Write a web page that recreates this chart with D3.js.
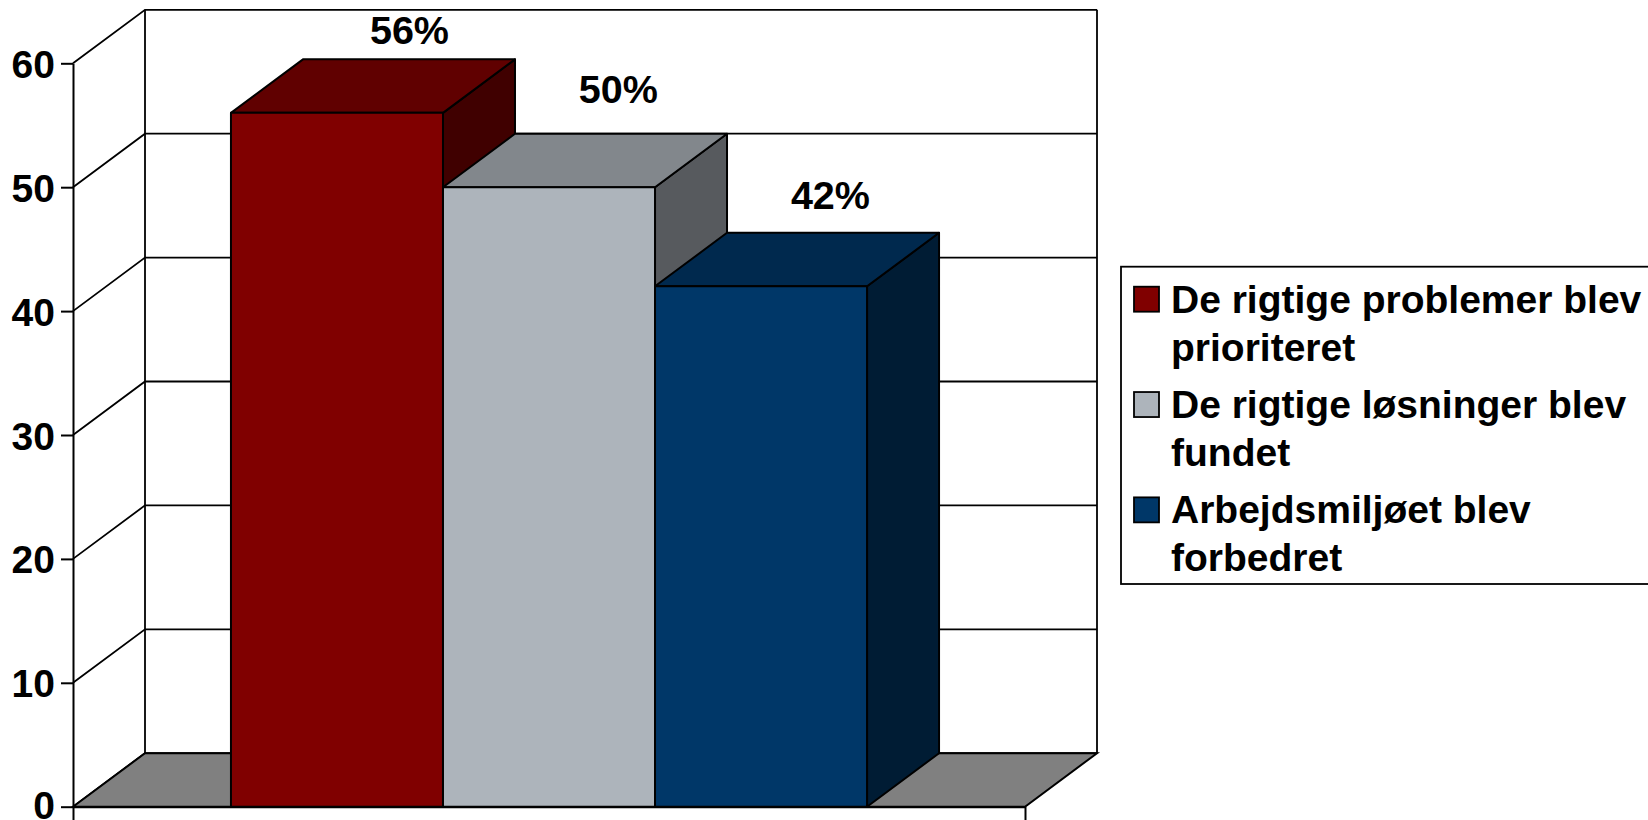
<!DOCTYPE html>
<html>
<head>
<meta charset="utf-8">
<script src="https://cdn.jsdelivr.net/npm/d3@7"></script>
<style>
  body { margin: 0; background: white; }
  svg { display: block; }
  text { font-family: "Liberation Sans", Arial, sans-serif; font-weight: bold; fill: black; }
</style>
</head>
<body>
<svg id="chart" width="1648" height="820"></svg>
<script>
var series = ["De rigtige problemer blev prioriteret", "De rigtige løsninger blev fundet", "Arbejdsmiljøet blev forbedret"];
var values = [56, 50, 42];
var valueLabels = ["56%", "50%", "42%"];
var yTicks = [0, 10, 20, 30, 40, 50, 60];
var legendLines = [["De rigtige problemer blev", "prioriteret"], ["De rigtige løsninger blev", "fundet"], ["Arbejdsmiljøet blev", "forbedret"]];
var frontColors = ["#800000", "#adb4bb", "#003768"];
var topColors = ["#600000", "#82878c", "#00294e"];
var sideColors = ["#400000", "#575a5e", "#001c34"];

var depthX = 72, depthY = -53.5; // 3d offset of the back wall
var labelLift = [15.4, 30.9, 23.8]; // label baseline above back edge of bar
var labelShift = [0.5, -2.6, -2.6];

var svg = d3.select("#chart");

var y = d3.scaleLinear().domain([0, 60]).range([806.7, 63.3]);
var frame = d3.scaleLinear().domain([0, 1]).range([73, 1025]);
var x = d3.scaleBand().domain(series).range([73, 1025]).paddingInner(0).paddingOuter(0.745);

var line = function(pts) { return "M" + pts.map(function(p) { return p.join(","); }).join("L") + "Z"; };

// walls
var walls = svg.append("g").attr("fill", "none").attr("stroke", "black").attr("stroke-width", 1.8);
walls.selectAll(".grid").data(yTicks).enter().append("path")
  .attr("d", function(d) {
    return "M" + frame(0) + "," + y(d) + "L" + (frame(0) + depthX) + "," + (y(d) + depthY) + "L" + (frame(1) + depthX) + "," + (y(d) + depthY);
  });
walls.append("line")
  .attr("x1", frame(0) + depthX).attr("x2", frame(0) + depthX)
  .attr("y1", y(60) + depthY).attr("y2", y(0) + depthY);
walls.append("line")
  .attr("x1", frame(1) + depthX).attr("x2", frame(1) + depthX)
  .attr("y1", y(60) + depthY).attr("y2", y(0) + depthY);

// floor
svg.append("path")
  .attr("d", line([[frame(0), y(0)], [frame(0) + depthX, y(0) + depthY], [frame(1) + depthX, y(0) + depthY], [frame(1), y(0)]]))
  .attr("fill", "#808080")
  .attr("stroke", "black")
  .attr("stroke-width", 2);

// bars
var bars = svg.selectAll(".bar").data(series).enter().append("g").attr("class", "bar")
  .attr("stroke", "black").attr("stroke-width", 2).attr("stroke-linejoin", "round");
bars.append("path")
  .attr("fill", function(d, i) { return sideColors[i]; })
  .attr("d", function(d, i) {
    var r = x(d) + x.bandwidth();
    return line([[r, y(values[i])], [r + depthX, y(values[i]) + depthY], [r + depthX, y(0) + depthY], [r, y(0)]]);
  });
bars.append("path")
  .attr("fill", function(d, i) { return topColors[i]; })
  .attr("d", function(d, i) {
    var l = x(d), r = l + x.bandwidth(), t = y(values[i]);
    return line([[l, t], [l + depthX, t + depthY], [r + depthX, t + depthY], [r, t]]);
  });
bars.append("rect")
  .attr("fill", function(d, i) { return frontColors[i]; })
  .attr("x", function(d) { return x(d); })
  .attr("width", x.bandwidth())
  .attr("y", function(d, i) { return y(values[i]); })
  .attr("height", function(d, i) { return y(0) - y(values[i]); });

// value labels
svg.selectAll(".value").data(series).enter().append("text")
  .attr("class", "value")
  .attr("text-anchor", "middle")
  .attr("font-size", 39.5)
  .attr("x", function(d, i) { return x(d) + x.bandwidth() / 2 + depthX + labelShift[i]; })
  .attr("y", function(d, i) { return y(values[i]) + depthY - labelLift[i]; })
  .text(function(d, i) { return valueLabels[i]; });

// axes
var leftAxis = d3.axisLeft(y).tickValues(yTicks).tickSize(12).tickSizeOuter(0).tickPadding(6);
var yG = svg.append("g").attr("transform", "translate(" + frame(0) + ",0)").call(leftAxis);
yG.selectAll("path, line").attr("stroke", "black").attr("stroke-width", 2);
yG.selectAll("text")
  .style("font-family", '"Liberation Sans", Arial, sans-serif')
  .style("font-weight", "bold")
  .style("font-size", "39px")
  .attr("dy", function(d) { return d === 0 ? "0.29em" : "0.36em"; });

var bottomAxis = d3.axisBottom(frame).tickValues([0, 1]).tickFormat("").tickSize(16).tickSizeOuter(0);
var xG = svg.append("g").attr("transform", "translate(0," + y(0) + ")").call(bottomAxis);
xG.selectAll("path, line").attr("stroke", "black").attr("stroke-width", 2);

// legend, runs off the right edge like the original
svg.append("rect")
  .attr("x", 1121).attr("y", 266.7)
  .attr("width", 560).attr("height", 317.3)
  .attr("fill", "white").attr("stroke", "black").attr("stroke-width", 1.8);

var legend = d3.scaleBand().domain(series).range([275, 591]);
var items = svg.selectAll(".legend").data(series).enter().append("g")
  .attr("class", "legend")
  .attr("transform", function(d) { return "translate(1134," + legend(d) + ")"; });
items.append("rect")
  .attr("y", 11.7).attr("width", 25).attr("height", 25)
  .attr("fill", function(d, i) { return frontColors[i]; })
  .attr("stroke", "black").attr("stroke-width", 1.8);
items.each(function(d, i) {
  d3.select(this).selectAll("text").data(legendLines[i]).enter().append("text")
    .attr("x", 37)
    .attr("y", function(t, j) { return 37.7 + j * 48; })
    .attr("font-size", 39)
    .text(function(t) { return t; });
});
</script>
</body>
</html>
